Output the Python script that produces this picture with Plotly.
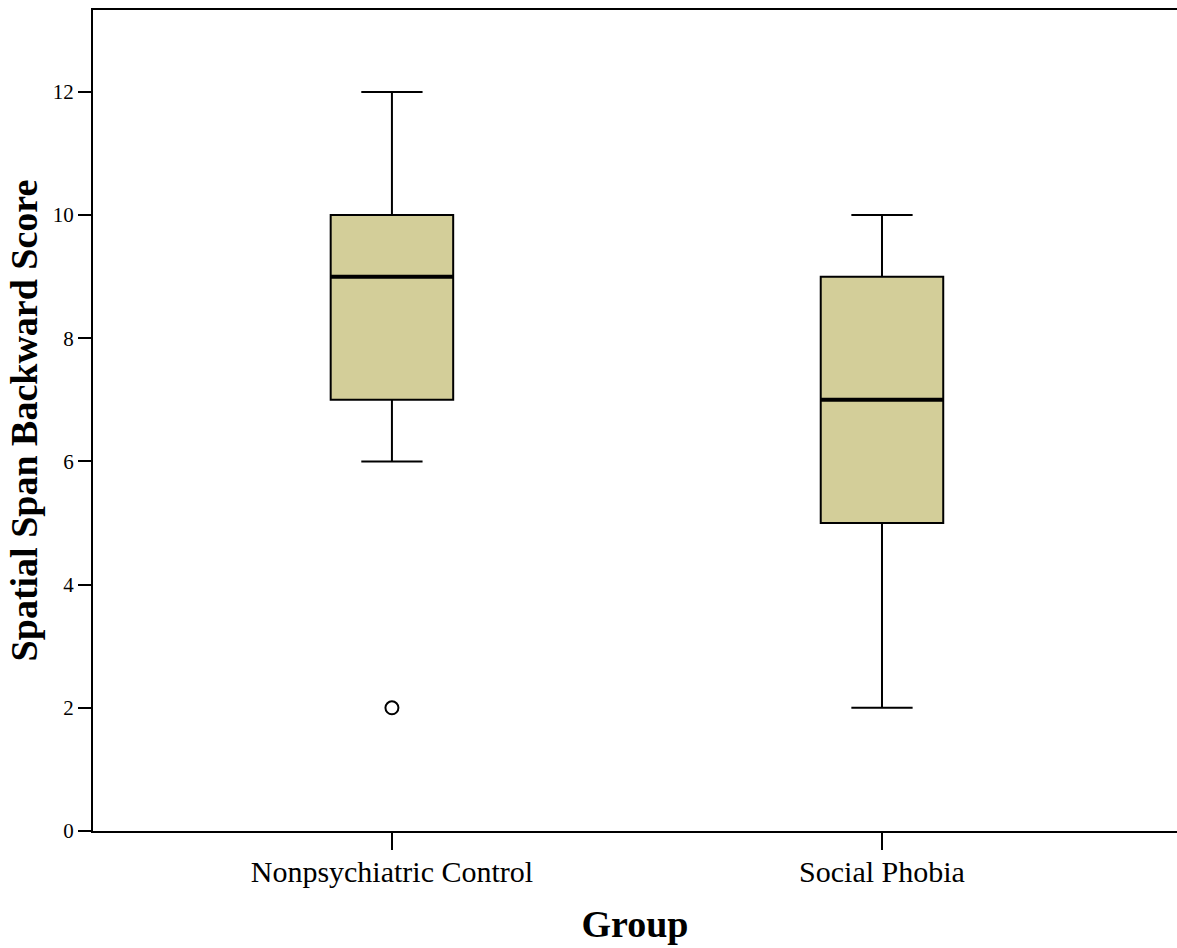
import plotly.graph_objects as go

groups = ["Nonpsychiatric Control", "Social Phobia"]
lower_fence = [6, 2]
q1 = [7, 5]
median = [9, 7]
q3 = [10, 9]
upper_fence = [12, 10]
outlier_groups = ["Nonpsychiatric Control"]
outlier_values = [2]
y_ticks = [0, 2, 4, 6, 8, 10, 12]

fig = go.Figure()
fig.add_trace(go.Box(
    x=groups, q1=q1, median=median, q3=q3,
    lowerfence=lower_fence, upperfence=upper_fence,
    width=0.25, whiskerwidth=0.5,
    fillcolor="#D3CE99", line=dict(color="black", width=2),
    boxpoints=False, showlegend=False, hoverinfo="skip",
))
# thicker median lines
fig.add_trace(go.Scatter(
    x=groups, y=median, mode="markers",
    marker=dict(symbol="line-ew", size=88, line=dict(color="black", width=4)),
    showlegend=False, hoverinfo="skip",
))
fig.add_trace(go.Scatter(
    x=outlier_groups, y=outlier_values, mode="markers",
    marker=dict(symbol="circle-open", size=13, color="black", line=dict(color="black", width=2)),
    showlegend=False, hoverinfo="skip",
))

fig.update_layout(
    width=1177, height=948,
    margin=dict(l=93, r=0, t=10, b=117),
    paper_bgcolor="white", plot_bgcolor="white",
    font=dict(family="Liberation Serif", color="black"),
    xaxis=dict(
        type="category", range=[-0.61, 1.602], automargin=False,
        showline=True, linecolor="black", linewidth=2, mirror=True,
        ticks="outside", ticklen=17, tickwidth=2, tickcolor="black",
        tickfont=dict(size=30, family="Liberation Serif"), ticklabelstandoff=-4,
        showgrid=False, zeroline=False,
        title=dict(text="<b>Group</b>", font=dict(size=38, family="Liberation Serif"), standoff=23),
    ),
    yaxis=dict(
        range=[0, 13.33], tickvals=y_ticks, automargin=False,
        showline=True, linecolor="black", linewidth=2, mirror=False,
        ticks="outside", ticklen=13, tickwidth=2, tickcolor="black",
        tickfont=dict(size=21, family="Liberation Serif"),
        showgrid=False, zeroline=False,
        title=dict(text="<b>Spatial Span Backward Score</b>", font=dict(size=38, family="Liberation Serif"), standoff=3),
    ),
)

fig.write_html(
    "out.html",
    config={"displayModeBar": False},
    post_script="document.body.style.margin='0';document.body.style.overflow='hidden';",
)
